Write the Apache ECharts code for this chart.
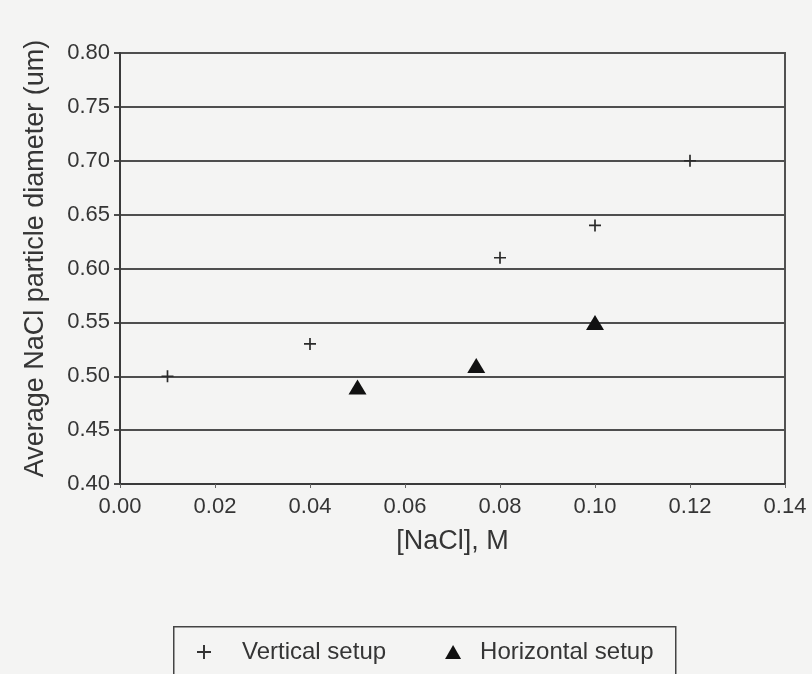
<!DOCTYPE html>
<html>
<head>
<meta charset="utf-8">
<script src="https://cdn.jsdelivr.net/npm/echarts@6/dist/echarts.min.js"></script>
<style>
html,body{margin:0;padding:0;background:#f4f4f3;}
#chart{width:812px;height:674px;}
</style>
</head>
<body>
<div id="chart"></div>
<script>
var verticalX = [0.01, 0.04, 0.08, 0.10, 0.12];
var verticalY = [0.50, 0.53, 0.61, 0.64, 0.70];
var horizontalX = [0.05, 0.075, 0.10];
var horizontalY = [0.49, 0.51, 0.55];
var seriesNames = ['Vertical setup', 'Horizontal setup'];
var xTitle = '[NaCl], M';
var yTitle = 'Average NaCl particle diameter (um)';

function pairs(xs, ys) { return xs.map(function (x, i) { return [x, ys[i]]; }); }

var plusPath = 'path://M4.3,0H5.7V4.3H10V5.7H5.7V10H4.3V5.7H0V4.3H4.3Z';
var font = '"Liberation Sans", Arial, sans-serif';
var dark = '#353535';

var chart = echarts.init(document.getElementById('chart'));
chart.setOption({
  backgroundColor: '#f4f4f3',
  animation: false,
  textStyle: { fontFamily: font },
  grid: { left: 120, right: 27, top: 53, bottom: 190, show: true, borderColor: '#404040', borderWidth: 1.8, backgroundColor: 'transparent' },
  xAxis: {
    type: 'value', min: 0, max: 0.14, interval: 0.02,
    name: xTitle, nameLocation: 'middle', nameGap: 44,
    nameTextStyle: { fontSize: 27, color: dark, fontFamily: font },
    axisLine: { show: true, lineStyle: { color: '#3a3a3a', width: 2 } },
    axisTick: { show: true, length: 4, lineStyle: { color: '#666', width: 1 } },
    axisLabel: { fontSize: 22, color: dark, margin: 12, fontFamily: font, formatter: function (v) { return v.toFixed(2); } },
    splitLine: { show: false }
  },
  yAxis: {
    type: 'value', min: 0.40, max: 0.80, interval: 0.05,
    name: yTitle, nameLocation: 'middle', nameGap: 71, nameRotate: 90,
    nameTextStyle: { fontSize: 27, color: dark, fontFamily: font, padding: [0, 0, 0, 20] },
    axisLine: { show: true, lineStyle: { color: '#3a3a3a', width: 2 } },
    axisTick: { show: true, length: 6, lineStyle: { color: '#3a3a3a', width: 1.8 } },
    axisLabel: { fontSize: 22, color: dark, margin: 10, fontFamily: font, formatter: function (v) { return v.toFixed(2); } },
    splitLine: { show: true, lineStyle: { color: '#4e4e4e', width: 1.8 } }
  },
  legend: {
    left: 192, top: 635,
    itemWidth: 16, itemHeight: 14, itemGap: 59,
    textStyle: { fontSize: 24, color: dark, fontFamily: font },
    data: [
      { name: seriesNames[0], icon: plusPath, itemStyle: { color: '#333' }, textStyle: { fontSize: 24, color: dark, padding: [0, 0, 0, 25] } },
      { name: seriesNames[1], icon: 'triangle', itemStyle: { color: '#111' }, textStyle: { fontSize: 24, color: dark, padding: [0, 0, 0, 14] } }
    ]
  },
  graphic: [{
    type: 'rect', left: 173, top: 626, silent: true, z: -1,
    shape: { width: 502, height: 60 },
    style: { fill: 'transparent', stroke: '#444', lineWidth: 1.5 }
  }],
  series: [
    {
      name: seriesNames[0], type: 'scatter', data: pairs(verticalX, verticalY),
      symbol: plusPath, symbolSize: 12, itemStyle: { color: '#2a2a2a', opacity: 1 }
    },
    {
      name: seriesNames[1], type: 'scatter', data: pairs(horizontalX, horizontalY),
      symbol: 'triangle', symbolSize: [18, 15], itemStyle: { color: '#111', opacity: 1 }
    }
  ]
});
</script>
</body>
</html>
